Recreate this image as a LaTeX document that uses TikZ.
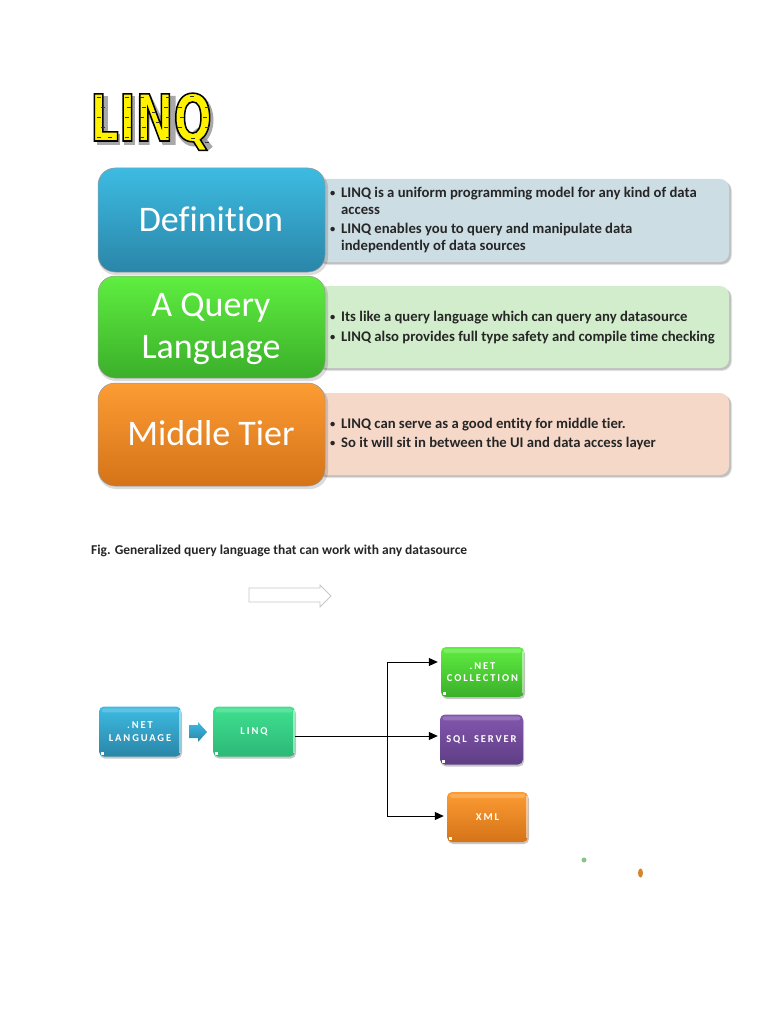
\documentclass[tikz,border=0pt]{standalone}
\usepackage{fontspec}
\setmainfont{Carlito}[Ligatures=NoCommon]
\newfontface\wordart{DejaVu Sans Bold}[FakeStretch=0.7]
\newfontface\spacedbold{Carlito Bold}[LetterSpace=18]
\usetikzlibrary{arrows.meta,positioning,shadows}
\definecolor{defT}{HTML}{3DBBE2}\definecolor{defM}{HTML}{35A6CC}\definecolor{defB}{HTML}{2A86A8}
\definecolor{qryT}{HTML}{5FEE40}\definecolor{qryM}{HTML}{50DE36}\definecolor{qryB}{HTML}{3BAF2A}
\definecolor{midT}{HTML}{FC9C33}\definecolor{midM}{HTML}{F38D2A}\definecolor{midB}{HTML}{D57318}
\definecolor{defP}{HTML}{CCDDE4}\definecolor{qryP}{HTML}{D2EDCB}\definecolor{midP}{HTML}{F6D8C9}
\definecolor{lnkT}{HTML}{3FE08E}\definecolor{lnkM}{HTML}{35D083}\definecolor{lnkB}{HTML}{2DB878}
\definecolor{purT}{HTML}{8257AE}\definecolor{purM}{HTML}{724C9C}\definecolor{purB}{HTML}{5F3E85}
\newcommand{\blt}{\makebox[11pt][l]{\raisebox{.6pt}{\fontsize{10.5}{10.5}\selectfont\textbullet}}}
\tikzset{
 x=1pt,y=-1pt,
 panel/.style={rounded corners=9pt,draw=none},
 softshade/.style={rounded corners=#1,fill=black,opacity=.1},
 bigbox/.style={rounded corners=17pt,draw=black!40,line width=.5pt},
 bigtxt/.style={text=white,font=\fontsize{36}{42}\selectfont,align=center},
 listtxt/.style={font=\fontsize{14.7}{17.6}\selectfont\bfseries,text=black!85,align=left,anchor=west,inner sep=0pt},
 smallbox/.style={rounded corners=5pt,text=white,font=\fontsize{10.5}{12.5}\selectfont\spacedbold,align=center,
   minimum width=#1,minimum height=50pt,inner sep=0pt,
   drop shadow={shadow xshift=1pt,shadow yshift=-2pt,opacity=.22,fill=black}},
 conn/.style={line width=1pt,-{Triangle[length=9pt,width=8pt]}},
 shine/.style={fill=white,opacity=.18,rounded corners=2pt},
 wordshadow/.style={black!45,line width=11pt,opacity=.75},
 wordmark/.style={black!80,line width=.8pt},
}
\begin{document}
\begin{tikzpicture}
\useasboundingbox (0,0) rectangle (768,1024);
\fill[white] (0,0) rectangle (768,1024);
% title: drop shadow, lettering, small dashes of the fill pattern
\draw[wordshadow] (102,96) -- (102,140) -- (120,140);
\draw[wordshadow] (129,96) -- (129,145);
\draw[wordshadow] (144,96) -- (144,145) (170,96) -- (170,145) (146,98) -- (168,143);
\draw[wordshadow,line width=9pt] (194,120) ellipse (15 and 22);
\draw[wordshadow,line width=7pt] (195,130) -- (210,149);
\node[anchor=base west,inner sep=0pt,text=yellow] (title) at (90,141) {\special{pdf:code q 2 Tr 1.5 w 0 0 0 RG}\fontsize{64.5}{64.5}\selectfont\wordart LINQ\special{pdf:code 0 Tr Q}};
\foreach \px/\py in {97/97,101/107,97/117,101/127,97/137,108/137,
  125/97,127/107,125/117,127/127,125/137,
  140/97,142/107,140/117,142/127,140/137,166/97,164/107,166/117,164/127,166/137,152/112,156/122,
  190/96,178/107,205/107,180/117,203/117,178/127,205/127,191/138,205/142}{
 \draw[wordmark] (\px,\py) -- (\px+3.5,\py);
}
% panels
\foreach \a/\b/\c in {179/262/defP,286/368/qryP,393/475/midP}{
 \fill[softshade=10pt] (318,\a+2) rectangle (732,\b+3);
 \fill[softshade=9pt,opacity=.16] (318,\a+2) rectangle (731,\b+2);
 \fill[\c,panel] (318,\a) rectangle (729,\b);
}
% big boxes
\foreach \a/\b/\t/\m/\u in {168/272/defT/defM/defB,276/378/qryT/qryM/qryB,383/486/midT/midM/midB}{
 \fill[softshade=18pt,opacity=.14] (98,\a+2) rectangle (328,\b+3);
 \shade[bigbox,top color=\t,middle color=\m,bottom color=\u] (98,\a) rectangle (325,\b);
}
\node[bigtxt] (d) at (211,219) {Definition};
\node[bigtxt] (q) at (211,329) {A Query\\Language};
\node[bigtxt] (m) at (211,433) {Middle Tier};
\node[listtxt] (dl) at (330,220) {\blt LINQ is a uniform programming model for any kind of data\\\hspace*{11pt}access\\[1pt]\blt LINQ enables you to query and manipulate data\\\hspace*{11pt}independently of data sources};
\node[listtxt] (ql) at (330,327.5) {\blt Its like a query language which can query any datasource\\[2.4pt]\blt LINQ also provides full type safety and compile time checking};
\node[listtxt] (ml) at (330,434) {\blt LINQ can serve as a good entity for middle tier.\\[1.4pt]\blt So it will sit in between the UI and data access layer};
\node[anchor=west,inner sep=0pt,font=\fontsize{13.5}{16}\selectfont\bfseries,text=black!85] (cap) at (91,551) {Fig. Generalized query language that can work with any datasource};
% outline arrow
\draw[black!22,line width=.8pt] (249,588) -- (320,588) -- (320,585) -- (331,596) -- (320,607) -- (320,602) -- (249,602) -- cycle;
% small boxes
\node[smallbox=82pt,top color=defT,middle color=defM,bottom color=defB] (n1) at (140,731.5) {.NET\\LANGUAGE};
\node[smallbox=82pt,top color=lnkT,middle color=lnkM,bottom color=lnkB] (n2) at (254,731.5) {LINQ};
\node[smallbox=83pt,top color=qryT,middle color=qryM,bottom color=qryB] (n3) at (482.5,672) {.NET\\COLLECTION};
\node[smallbox=83pt,top color=purT,middle color=purM,bottom color=purB] (n4) at (481.5,739.5) {SQL\hspace{3pt} SERVER};
\node[smallbox=81pt,top color=midT,middle color=midM,bottom color=midB] (n5) at (487.5,817) {XML};
% bevel highlights on the small boxes
\foreach \n in {n1,n2,n3,n4,n5}{
 \fill[shine] ([shift={(3,2)}]\n.north west) rectangle ([shift={(-3,6)}]\n.north east);
 \fill[white] ([shift={(2,-5)}]\n.south west) rectangle ([shift={(5,-2)}]\n.south west);
}
\foreach \n in {n1,n2,n3,n5}{
 \fill[white,opacity=.5] ([shift={(-2,4)}]\n.north east) rectangle ([shift={(-.5,-4)}]\n.south east);
}
% blue arrow
\shade[top color=defT,bottom color=defB] (189,725) -- (198,725) -- (198,722) -- (207,732) -- (198,742) -- (198,738) -- (189,738) -- cycle;
% connectors
\coordinate (hub) at (387,736);
\coordinate (t1) at ([shift={(-3,-10)}]n3.west);
\coordinate (t2) at ([shift={(-2,-3.5)}]n4.west);
\coordinate (t3) at ([shift={(-3,-1)}]n5.west);
\draw[line width=1pt] (n2.east |- hub) -- (hub);
\draw[conn] (hub) -- (t2);
\draw[conn] (hub) |- (t1);
\draw[conn] (hub) |- (t3);
% specks
\fill[green!35!gray!70] (584,860) circle (2.5);
\fill[midT!85!black] (640.5,873) ellipse (2.5 and 4.5);
\end{tikzpicture}
\end{document}
